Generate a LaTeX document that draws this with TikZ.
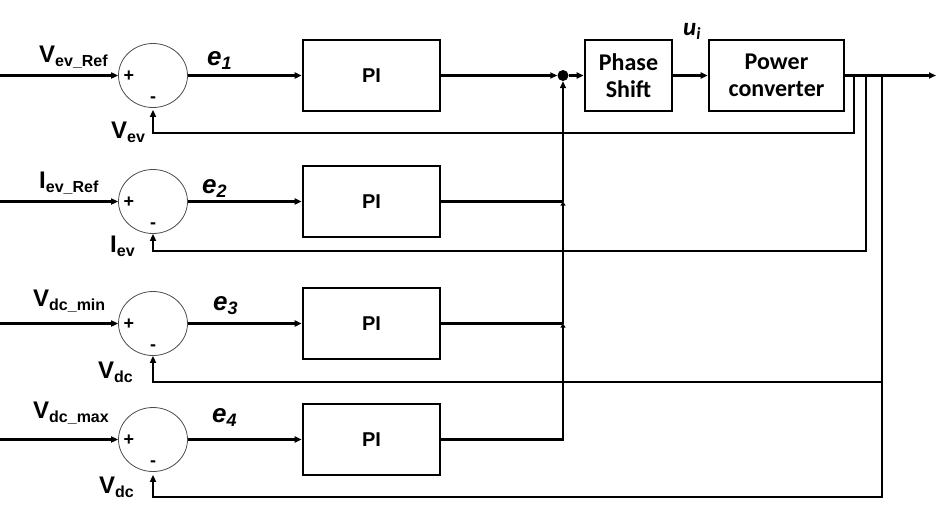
\documentclass[tikz,border=0pt]{standalone}
\usepackage{fontspec}
\setmainfont{Liberation Sans}
\newfontfamily\calfont{Carlito}
\usetikzlibrary{shapes.geometric,arrows.meta}

% signal name with a lowered subscript
\newcommand\sigl[2]{{\fontsize{24}{24}\selectfont #1}\raisebox{-4pt}{\fontsize{16}{16}\selectfont #2}}
% error signal e_k
\newcommand\errl[2]{{\fontsize{26}{26}\selectfont\itshape #1}\raisebox{-4pt}{\fontsize{18}{18}\selectfont\itshape #2}}

\begin{document}
\begin{tikzpicture}[x=1pt,y=-1pt,
  sumj/.style={draw=black!70,line width=0.8pt,ellipse,minimum width=69pt,minimum height=64pt,inner sep=0pt},
  blk/.style={draw,line width=2.6pt,minimum width=137pt,minimum height=71pt,inner sep=0pt,
              font=\bfseries\fontsize{20}{20}\selectfont},
  cblk/.style={draw,line width=2.6pt,minimum height=71pt,inner sep=0pt,align=center,
              font=\calfont\bfseries\fontsize{24}{27}\selectfont},
  wire/.style={line width=2.2pt},
  arr/.style={wire,-{Triangle[length=7pt,width=6pt]}},
  tinyarr/.style={wire,-{Triangle[length=4pt,width=5pt]}},
  lbl/.style={font=\bfseries,inner sep=0pt,anchor=base west},
  sgn/.style={font=\bfseries\fontsize{18}{18}\selectfont,inner sep=0pt}
]
\useasboundingbox (0,0) rectangle (940,512);

% summing junctions
\node[sumj] (s1) at (153,75.5) {};
\node[sumj] (s2) at (153,201.5) {};
\node[sumj] (s3) at (153,323.5) {};
\node[sumj] (s4) at (153,439.5) {};

% signs on the junctions
\foreach \k in {1,2,3,4}{
  \node[sgn] (p\k) at ([xshift=-24pt,yshift=-1pt]s\k.center) {+};
  \node[sgn] (m\k) at ([yshift=-24pt]s\k.center) {-};
}

% controllers
\node[blk] (pi1) at (371.5,75.5) {PI};
\node[blk] (pi2) at (371.5,201.5) {PI};
\node[blk] (pi3) at (371.5,323.5) {PI};
\node[blk] (pi4) at (371.5,439.5) {PI};

\node[cblk,minimum width=87pt] (ps) at (628.5,75.5) {Phase\\Shift};
\node[cblk,minimum width=135pt] (pc) at (776.5,75.5) {Power\\converter};

\node[circle,fill,inner sep=0pt,minimum size=11pt] (dot) at (563,75.5) {};

% reference inputs
\coordinate (in1) at (0,75.5);
\coordinate (in2) at (0,201.5);
\coordinate (in3) at (0,323.5);
\coordinate (in4) at (0,439.5);
\foreach \k in {1,2,3,4}{
  \draw[arr] (in\k) -- (s\k);
  \draw[arr] (s\k) -- (pi\k);
}

% controller outputs gathered on one bus
\coordinate (c2) at (563,201.5);
\coordinate (c3) at (563,323.5);
\coordinate (c4) at (563,439.5);
\draw[wire] (pi2) -- (c2);
\draw[wire] (pi3) -- (c3);
\draw[wire,line join=miter] (pi4) -- (c4) -- ++(0,-2);
\draw[tinyarr] (c4) -- (c3);
\draw[tinyarr] (c3) -- (c2);
\draw[arr] (c2) -- (dot);
\draw[arr] (pi1) -- (dot);
\draw[arr] (dot) -- (ps);
\draw[arr] (ps) -- (pc);

% plant output
\coordinate (out) at (936,75.5);
\draw[arr] (pc) -- (out);

% feedback paths
\coordinate (t1) at (854,75.5);
\coordinate (t2) at (866,75.5);
\coordinate (t3) at (882,75.5);
\coordinate (f1) at (153,133);
\coordinate (f2) at (153,251);
\coordinate (f3) at (153,382);
\coordinate (f4) at (153,497);
\draw[arr,shorten >=2pt] (t1) |- (f1) -- (s1);
\draw[arr] (t2) |- (f2) -- (s2);
\draw[arr] (t3) |- (f3) -- (s3);
\draw[arr,shorten >=3pt] (t3) |- (f4) -- (s4);

% signal labels
\node[lbl] (l1) at (39,62) {\sigl{V}{ev\_Ref}};
\node[lbl] (l1f) at (111,138) {\sigl{V}{ev}};
\node[lbl] (l2) at (39,188) {\sigl{I}{ev\_Ref}};
\node[lbl] (l2f) at (110,252) {\sigl{I}{ev}};
\node[lbl] (l3) at (33,306) {\sigl{V}{dc\_min}};
\node[lbl] (l3f) at (98,378) {\sigl{V}{dc}};
\node[lbl] (l4) at (33,418) {\sigl{V}{dc\_max}};
\node[lbl] (l4f) at (99,493) {\sigl{V}{dc}};

\node[lbl] (e1) at (207,65) {\errl{e}{1}};
\node[lbl] (e2) at (202,193) {\errl{e}{2}};
\node[lbl] (e3) at (213,310) {\errl{e}{3}};
\node[lbl] (e4) at (212,422) {\errl{e}{4}};

\node[lbl] (ui) at (683,35) {\calfont\bfseries\itshape{\fontsize{25}{25}\selectfont u}\raisebox{-4pt}{\fontsize{17}{17}\selectfont i}};
\end{tikzpicture}
\end{document}
